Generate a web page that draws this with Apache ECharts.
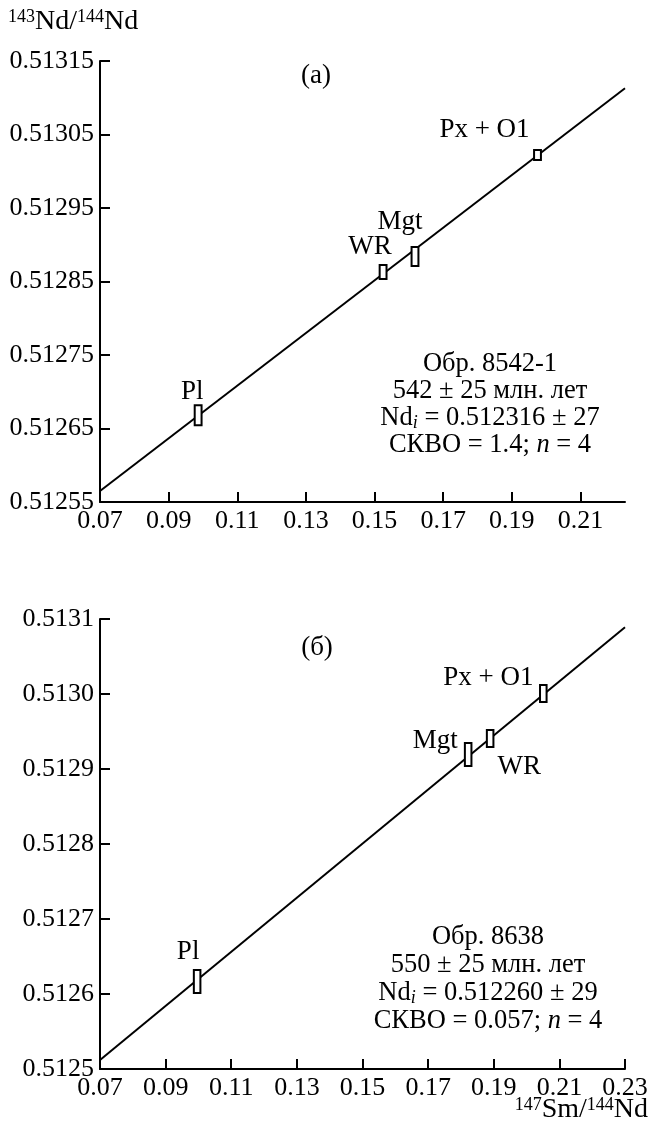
<!DOCTYPE html>
<html><head><meta charset="utf-8">
<script src="https://cdn.jsdelivr.net/npm/echarts@6/dist/echarts.min.js"></script>
<style>html,body{margin:0;padding:0;background:#fff}#c{width:649px;height:1129px}</style>
</head><body><div id="c"></div>
<script>
// ---------- DATA ----------
// Panel (а) — sample 8542-1
const namesA = ['Pl', 'WR', 'Mgt', 'Px + O1'];
const smNdA = [0.0986, 0.1525, 0.1618, 0.1975];
const ndNdA = [0.512668, 0.512863, 0.512884, 0.513022];
const errSmA = [0.001, 0.001, 0.001, 0.001];
const errNdA = [0.0000136, 0.0000095, 0.0000129, 0.0000068];
const isoXA = [0.07, 0.223];
const isoYA = [0.512565, 0.513113];
const xTicksA = [0.07, 0.09, 0.11, 0.13, 0.15, 0.17, 0.19, 0.21];
const yTicksA = [0.51255, 0.51265, 0.51275, 0.51285, 0.51295, 0.51305, 0.51315];

// Panel (б) — sample 8638
const namesB = ['Pl', 'Mgt', 'WR', 'Px + O1'];
const smNdB = [0.0996, 0.1822, 0.1889, 0.2051];
const ndNdB = [0.5126167, 0.5129193, 0.5129407, 0.5130007];
const errSmB = [0.001, 0.001, 0.001, 0.001];
const errNdB = [0.0000153, 0.0000153, 0.0000113, 0.0000113];
const isoXB = [0.07, 0.23];
const isoYB = [0.512512, 0.513089];
const xTicksB = [0.07, 0.09, 0.11, 0.13, 0.15, 0.17, 0.19, 0.21, 0.23];
const yTicksB = [0.5125, 0.5126, 0.5127, 0.5128, 0.5129, 0.5130, 0.5131];

const textA = ['Обр. 8542-1', '542 ± 25 млн. лет', '{m|Nd}{sub|i}{m| = 0.512316 ± 27}', '{m|СКВО = 1.4; }{it|n}{m| = 4}'];
const textB = ['Обр. 8638', '550 ± 25 млн. лет', '{m|Nd}{sub|i}{m| = 0.512260 ± 29}', '{m|СКВО = 0.057; }{it|n}{m| = 4}'];

// ---------- STYLE / LAYOUT ----------
const FF = '"Liberation Serif", "DejaVu Serif", serif';
const FS = 26;      // tick labels
const FA = 26.5;    // annotation
const FL = 27;      // point labels
const labelOffA = [[-6, -23], [-13, -25], [-15, -35], [-53, -25]];
const labelOffB = [[-9, -30], [-33, -14], [29, 28], [-55, -16]];

const rich = {
  m: {fontFamily: FF, fontSize: FA, color: '#000'},
  sub: {fontFamily: FF, fontSize: 18, fontStyle: 'italic', color: '#000', verticalAlign: 'bottom', padding: [10, 0, 0, 0]},
  it: {fontFamily: FF, fontSize: FA, fontStyle: 'italic', color: '#000'},
  T: {fontFamily: FF, fontSize: 28, color: '#000'},
  sup: {fontFamily: FF, fontSize: 18, color: '#000', verticalAlign: 'top', padding: [0, 0, 10, 0]}
};

function xAxis(gi, min, max, ticks) {
  return {
    type: 'value', gridIndex: gi, min: min, max: max,
    splitLine: {show: false},
    axisLine: {show: true, onZero: false, lineStyle: {color: '#000', width: 2}},
    axisTick: {show: true, inside: true, length: 10, lineStyle: {color: '#000', width: 2}, customValues: ticks},
    axisLabel: {show: true, color: '#000', fontFamily: FF, fontSize: FS, margin: 6, customValues: ticks,
      formatter: v => v.toFixed(2)}
  };
}
function yAxis(gi, min, max, ticks, dec) {
  return {
    type: 'value', gridIndex: gi, min: min, max: max,
    splitLine: {show: false},
    axisLine: {show: true, onZero: false, lineStyle: {color: '#000', width: 2}},
    axisTick: {show: true, inside: true, length: 10, lineStyle: {color: '#000', width: 2}, customValues: ticks},
    axisLabel: {show: true, color: '#000', fontFamily: FF, fontSize: FS, margin: 6, customValues: ticks,
      formatter: v => v.toFixed(dec)}
  };
}
function boxSeries(gi, xs, ys, ex, ey, names, offs) {
  return {
    type: 'custom', xAxisIndex: gi, yAxisIndex: gi, z: 5, clip: false,
    data: xs.map((x, i) => [x, ys[i], ex[i], ey[i]]),
    encode: {x: 0, y: 1},
    renderItem: (params, api) => {
      const x = api.value(0), y = api.value(1), dx = api.value(2), dy = api.value(3);
      const p0 = api.coord([x - dx, y + dy]);
      const p1 = api.coord([x + dx, y - dy]);
      const c = api.coord([x, y]);
      const i = params.dataIndex;
      return {type: 'group', children: [
        {type: 'rect', shape: {x: p0[0], y: p0[1], width: p1[0] - p0[0], height: p1[1] - p0[1]},
          style: {fill: '#fff', stroke: '#000', lineWidth: 2}},
        {type: 'text', style: {text: names[i], x: c[0] + offs[i][0], y: c[1] + offs[i][1],
          font: FL + 'px ' + FF, fill: '#000', align: 'center', verticalAlign: 'middle'}}
      ]};
    }
  };
}
function lineSeries(gi, xs, ys) {
  return {
    type: 'line', xAxisIndex: gi, yAxisIndex: gi, z: 2, symbol: 'none', silent: true,
    data: xs.map((x, i) => [x, ys[i]]),
    lineStyle: {color: '#000', width: 2}
  };
}
function textLines(lines, cx, y0, dy) {
  return lines.map((t, i) => ({
    type: 'text', x: cx, y: y0 + i * dy,
    style: {text: t, rich: rich, font: FA + 'px ' + FF, fill: '#000', align: 'center', verticalAlign: 'middle',
      textAlign: 'center', textVerticalAlign: 'middle'}
  }));
}

const chart = echarts.init(document.getElementById('c'), null, {renderer: 'canvas'});
chart.setOption({
  animation: false,
  backgroundColor: '#fff',
  grid: [
    {left: 100, top: 61, width: 525, height: 441, containLabel: false, outerBoundsMode: 'none'},
    {left: 100, top: 619, width: 525, height: 450, containLabel: false, outerBoundsMode: 'none'}
  ],
  xAxis: [xAxis(0, 0.07, 0.223, xTicksA), xAxis(1, 0.07, 0.23, xTicksB)],
  yAxis: [yAxis(0, 0.51255, 0.51315, yTicksA, 5), yAxis(1, 0.5125, 0.5131, yTicksB, 4)],
  series: [
    lineSeries(0, isoXA, isoYA),
    boxSeries(0, smNdA, ndNdA, errSmA, errNdA, namesA, labelOffA),
    lineSeries(1, isoXB, isoYB),
    boxSeries(1, smNdB, ndNdB, errSmB, errNdB, namesB, labelOffB)
  ],
  graphic: [].concat(
    [{type: 'text', x: 8, y: 22, style: {text: '{sup|143}{T|Nd/}{sup|144}{T|Nd}', rich: rich, align: 'left', verticalAlign: 'middle', textAlign: 'left', textVerticalAlign: 'middle'}},
     {type: 'text', x: 648, y: 1110, style: {text: '{sup|147}{T|Sm/}{sup|144}{T|Nd}', rich: rich, align: 'right', verticalAlign: 'middle', textAlign: 'right', textVerticalAlign: 'middle'}},
     {type: 'text', x: 316, y: 76, style: {text: '(а)', font: FL + 'px ' + FF, fill: '#000', align: 'center', verticalAlign: 'middle', textAlign: 'center', textVerticalAlign: 'middle'}},
     {type: 'text', x: 317, y: 648, style: {text: '(б)', font: FL + 'px ' + FF, fill: '#000', align: 'center', verticalAlign: 'middle', textAlign: 'center', textVerticalAlign: 'middle'}}],
    textLines(textA, 490, 364, 27),
    textLines(textB, 488, 937, 28)
  )
});
</script></body></html>
